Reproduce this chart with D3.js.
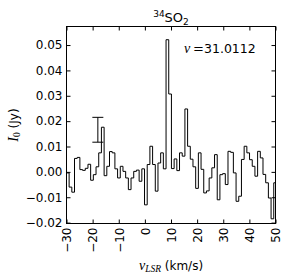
<!DOCTYPE html>
<html>
<head>
<meta charset="utf-8">
<script src="https://cdn.jsdelivr.net/npm/d3@7"></script>
<style>
  body { margin: 0; background: #fff; }
  svg { display: block; }
  text { font-family: "DejaVu Sans", sans-serif; fill: #000; }
</style>
</head>
<body>
<svg id="spectrum" width="289" height="276"></svg>
<script>
// channel centres (km/s) and flux (Jy)
const channelVelocity = [
  -29.52, -28.48, -27.45, -26.42, -25.39, -24.36, -23.33, -22.30, -21.27, -20.24,
  -19.21, -18.18, -17.15, -16.12, -15.08, -14.05, -13.02, -11.99, -10.96, -9.93,
  -8.90, -7.87, -6.84, -5.81, -4.78, -3.75, -2.72, -1.68, -0.65, 0.38,
  1.41, 2.44, 3.47, 4.50, 5.53, 6.56, 7.59, 8.62, 9.65, 10.68,
  11.72, 12.75, 13.78, 14.81, 15.84, 16.87, 17.90, 18.93, 19.96, 20.99,
  22.02, 23.05, 24.08, 25.12, 26.15, 27.18, 28.21, 29.24, 30.27, 31.30,
  32.33, 33.36, 34.39, 35.42, 36.45, 37.48, 38.52, 39.55, 40.58, 41.61,
  42.64, 43.67, 44.70, 45.73, 46.76, 47.79, 48.82, 49.85
];
const channelFlux = [
  -0.0004, -0.0060, -0.0080, 0.0053, 0.0057, 0.0009, 0.0006, 0.0014, 0.0030, -0.0033,
  -0.0011, 0.0020, 0.0075, 0.0176, -0.0015, 0.0022, 0.0080, 0.0075, 0.0012, -0.0024,
  0.0022, 0.0002, -0.0024, -0.0070, -0.0024, 0.0002, 0.0007, -0.0037, 0.0012, -0.0130,
  0.0029, 0.0101, 0.0029, -0.0076, 0.0035, 0.0075, 0.0012, 0.0521, 0.0307, 0.0013,
  0.0051, 0.0005, 0.0075, 0.0062, 0.0248, 0.0101, 0.0050, 0.0020, -0.0065, 0.0075,
  0.0010, -0.0083, -0.0075, -0.0024, 0.0016, 0.0068, -0.0110, -0.0011, -0.0007, -0.0050,
  0.0081, 0.0077, -0.0004, -0.0116, -0.0096, 0.0049, 0.0101, 0.0075, 0.0048, 0.0022,
  -0.0017, 0.0081, 0.0055, -0.0010, -0.0043, -0.0103, -0.0185, -0.0043
];

// rms error bar
const errVelocity = [-18.0];
const errFlux = [0.0166];
const errSize = [0.0049];

const xTicks = [-30, -20, -10, 0, 10, 20, 30, 40, 50];
const yTicks = [-0.02, -0.01, 0.00, 0.01, 0.02, 0.03, 0.04, 0.05];
const lineFreq = "31.0112";

const svg = d3.select("#spectrum");

const plotLeft = 66.5, plotRight = 275.5, plotTop = 26.5, plotBottom = 223.5;

const x = d3.scaleLinear().domain([-30, 50]).range([plotLeft, plotRight]);
const y = d3.scaleLinear()
  .domain([1.1 * d3.min(channelFlux), 1.1 * d3.max(channelFlux)])
  .range([plotBottom, plotTop]);

svg.append("clipPath").attr("id", "plotClip")
  .append("rect")
    .attr("x", plotLeft).attr("y", plotTop)
    .attr("width", plotRight - plotLeft).attr("height", plotBottom - plotTop);

// step outline (steps-mid): edges half way between channel centres
let n = channelVelocity.length;
let edges = [channelVelocity[0] - (channelVelocity[1] - channelVelocity[0]) / 2];
for (let i = 1; i < n; i++) edges.push((channelVelocity[i - 1] + channelVelocity[i]) / 2);
edges.push(channelVelocity[n - 1] + (channelVelocity[n - 1] - channelVelocity[n - 2]) / 2);

let pts = channelFlux.map((f, i) => [edges[i], f]);
pts.push([edges[n], channelFlux[n - 1]]);

const step = d3.line()
  .x(d => x(d[0]))
  .y(d => y(d[1]))
  .curve(d3.curveStepAfter);

svg.append("path")
  .datum(pts)
  .attr("clip-path", "url(#plotClip)")
  .attr("fill", "none")
  .attr("stroke", "#000")
  .attr("stroke-width", 1)
  .attr("d", step);

// error bar with caps
const eb = svg.append("g").attr("stroke", "#000").attr("stroke-width", 1);
errVelocity.forEach((v, i) => {
  const cx = x(v);
  eb.append("line")
    .attr("x1", cx).attr("x2", cx)
    .attr("y1", y(errFlux[i] - errSize[i])).attr("y2", y(errFlux[i] + errSize[i]));
  [errFlux[i] - errSize[i], errFlux[i] + errSize[i]].forEach(c => {
    eb.append("line")
      .attr("x1", cx - 5.5).attr("x2", cx + 5.5)
      .attr("y1", y(c)).attr("y2", y(c));
  });
});

// axes, ticks pointing inward on all four sides
const fmtY = d3.format(".2f");

const gx = svg.append("g")
  .attr("transform", `translate(0,${plotBottom})`)
  .call(d3.axisBottom(x).tickValues(xTicks).tickSizeInner(-4).tickSizeOuter(0).tickPadding(4));
gx.selectAll(".tick text")
  .attr("transform", "rotate(-90)")
  .attr("text-anchor", "end")
  .attr("x", -4)
  .attr("y", 0)
  .attr("dy", "0.36em");

const gy = svg.append("g")
  .attr("transform", `translate(${plotLeft},0)`)
  .call(d3.axisLeft(y).tickValues(yTicks).tickFormat(fmtY).tickSizeInner(-4).tickSizeOuter(0).tickPadding(4));

svg.append("g")
  .attr("transform", `translate(0,${plotTop})`)
  .call(d3.axisTop(x).tickValues(xTicks).tickFormat("").tickSizeInner(-4).tickSizeOuter(0));

svg.append("g")
  .attr("transform", `translate(${plotRight},0)`)
  .call(d3.axisRight(y).tickValues(yTicks).tickFormat("").tickSizeInner(-4).tickSizeOuter(0));

svg.selectAll(".domain").remove();
svg.selectAll(".tick line").attr("stroke", "#000");
svg.selectAll(".tick text")
  .attr("font-family", "DejaVu Sans, sans-serif")
  .attr("font-size", 12)
  .attr("fill", "#000");

svg.append("rect")
  .attr("x", plotLeft).attr("y", plotTop)
  .attr("width", plotRight - plotLeft).attr("height", plotBottom - plotTop)
  .attr("fill", "none")
  .attr("stroke", "#000")
  .attr("stroke-width", 1);

// title  34SO2
const title = svg.append("text")
  .attr("x", (plotLeft + plotRight) / 2)
  .attr("y", 22)
  .attr("text-anchor", "middle")
  .attr("font-size", 13);
title.append("tspan").attr("font-size", 9).attr("dy", -5).text("34");
title.append("tspan").attr("dy", 5).text("SO");
title.append("tspan").attr("font-size", 9).attr("dy", 3).text("2");

// line frequency note
const note = svg.append("text")
  .attr("y", 53)
  .attr("font-size", 12.5);
note.append("tspan")
  .attr("x", 184)
  .attr("font-family", "Liberation Serif, serif")
  .attr("font-style", "italic")
  .attr("font-size", 14)
  .text("ν");
note.append("tspan")
  .attr("x", 193)
  .attr("font-size", 13)
  .text("=");
note.append("tspan").attr("x", 204).text(lineFreq);

// axis labels
const xl = svg.append("text")
  .attr("x", (plotLeft + plotRight) / 2)
  .attr("y", 270)
  .attr("text-anchor", "middle")
  .attr("font-size", 12);
xl.append("tspan")
  .attr("font-family", "Liberation Serif, serif")
  .attr("font-style", "italic")
  .attr("font-size", 14)
  .text("v");
xl.append("tspan")
  .attr("font-family", "Liberation Serif, serif")
  .attr("font-style", "italic")
  .attr("font-size", 9.5)
  .attr("dy", 2)
  .text("LSR");
xl.append("tspan").attr("dy", -2).text(" (km/s)");

const yl = svg.append("text")
  .attr("transform", `translate(18,${(plotTop + plotBottom) / 2}) rotate(-90)`)
  .attr("text-anchor", "middle")
  .attr("font-size", 12);
yl.append("tspan")
  .attr("font-family", "Liberation Serif, serif")
  .attr("font-style", "italic")
  .attr("font-size", 14)
  .text("I");
yl.append("tspan")
  .attr("font-family", "Liberation Serif, serif")
  .attr("font-size", 9.5)
  .attr("dy", 2)
  .text("0");
yl.append("tspan").attr("dy", -2).text(" (Jy)");
</script>
</body>
</html>
